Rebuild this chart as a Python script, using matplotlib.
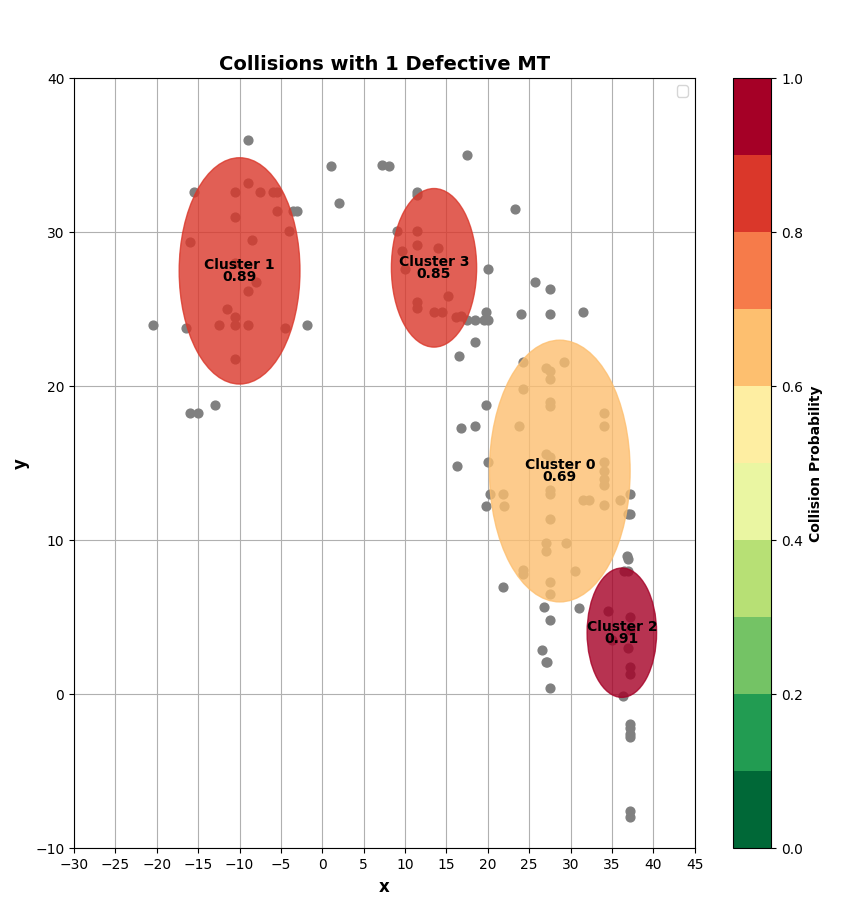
import numpy as np
import matplotlib.pyplot as plt
import matplotlib as mpl
from matplotlib.patches import Ellipse

px = [-9, 1, 7.2, 8, 17.5, -15.5, -10.5, -9, -7.5, -6, -5.5, -3.5, -3, -5.5, 2, 11.5, 11.5, 23.3,
      -10.5, -16, -8.5, -4, 9, 11.5, 11.5, 9.6, 14, -10.5, -8, -9, 10, 20, 25.7, 27.5, 15.2, 11.5,
      11.5, 13.5, 14.5, 16.2, 16.8, 17.5, 18.5, 19.5, 19.8, 20, 24, 27.5, 31.5, -20.5, -16.5, -12.5,
      -11.5, -10.5, -10.5, -9, -4.5, -1.8, 18.5, 16.5, -10.5, 24.2, 29.2, 27, 27.5, 27.5, 24.2, -16,
      -15, -13, 19.8, 27.5, 27.5, 34, 16.8, 18.5, 23.8, 34, 27, 27.5, 16.3, 20, 34, 34, 34, 34, 20.3,
      21.8, 27.5, 27.5, 37.2, 19.8, 22, 31.5, 32.2, 34, 36, 37, 37.2, 27.5, 27, 29.5, 27, 36.8, 37,
      24.2, 24.2, 30.5, 36.5, 37, 21.8, 27.5, 27.5, 26.8, 31, 34.5, 37.2, 27.5, 37.2, 35, 26.5, 37,
      27, 27.1, 37.2, 37.2, 27.5, 36.3, 37.2, 37.2, 37.2, 37.2, 37.2, 37.2]
py = [36, 34.3, 34.4, 34.3, 35, 32.6, 32.6, 33.2, 32.6, 32.6, 32.6, 31.4, 31.4, 31.4, 31.9, 32.6, 32.4, 31.5,
      31, 29.4, 29.5, 30.1, 30.1, 30.1, 29.2, 28.8, 29, 28, 26.8, 26.2, 27.6, 27.6, 26.8, 26.3, 25.9, 25.5,
      25.1, 24.8, 24.8, 24.5, 24.6, 24.3, 24.3, 24.3, 24.8, 24.3, 24.7, 24.7, 24.8, 24, 23.8, 24,
      25, 24.5, 24, 24, 23.8, 24, 22.9, 22, 21.8, 21.6, 21.6, 21.2, 21, 20.5, 19.8, 18.3,
      18.3, 18.8, 18.8, 19, 18.7, 18.3, 17.3, 17.4, 17.4, 17.4, 15.6, 15.4, 14.8, 15.1, 15.1, 14.5, 14, 13.6, 13,
      13, 13, 13.3, 13, 12.2, 12.2, 12.6, 12.6, 12.3, 12.6, 11.7, 11.7, 11.4, 9.8, 9.8, 9.3, 9, 8.8,
      8.1, 7.8, 8, 8, 8, 7, 7.3, 6.5, 5.7, 5.6, 5.4, 5, 4.8, 4.2, 3.5, 2.9, 3,
      2.1, 2.1, 1.8, 1.3, 0.4, -0.1, -1.9, -2.2, -2.6, -2.8, -7.6, -8]

cluster_names = ["Cluster 0", "Cluster 1", "Cluster 2", "Cluster 3"]
cluster_x = [28.7, -10, 36.2, 13.5]
cluster_y = [14.5, 27.5, 4, 27.7]
cluster_w = [17, 14.6, 8.4, 10.3]
cluster_h = [17, 14.7, 8.4, 10.3]
cluster_prob = [0.69, 0.89, 0.91, 0.85]

fig, ax = plt.subplots(figsize=(8.42, 9.23), dpi=100)
fig.subplots_adjust(left=0.088, right=0.825, top=0.915, bottom=0.081)

cmap = plt.get_cmap('RdYlGn_r', 10)
norm = mpl.colors.Normalize(0, 1)

ax.scatter(px, py, color='gray', s=40, zorder=2)
for name, cx, cy, w, h, p in zip(cluster_names, cluster_x, cluster_y, cluster_w, cluster_h, cluster_prob):
    c = cmap(norm(p))
    ax.add_patch(Ellipse((cx, cy), w, h, facecolor=c, edgecolor=c, alpha=0.8, zorder=3))
    ax.text(cx, cy, f"{name}\n{p:.2f}", ha='center', va='center', fontsize=10,
            fontweight='bold', linespacing=0.8, zorder=4)

ax.set_xlim(-30, 45)
ax.set_ylim(-10, 40)
ax.set_xticks(np.arange(-30, 46, 5))
ax.set_title("Collisions with 1 Defective MT", fontsize=14, fontweight='bold')
ax.set_xlabel("x", fontsize=12, fontweight='bold')
ax.set_ylabel("y", fontsize=12, fontweight='bold')
ax.grid(True)
ax.legend(handles=[], loc='upper right')

sm = mpl.cm.ScalarMappable(cmap=cmap, norm=norm)
cax = fig.add_axes([0.871, 0.081, 0.045, 0.834])
cb = fig.colorbar(sm, cax=cax)
cb.set_label("Collision Probability", fontweight='bold')

fig.savefig("out.png")
